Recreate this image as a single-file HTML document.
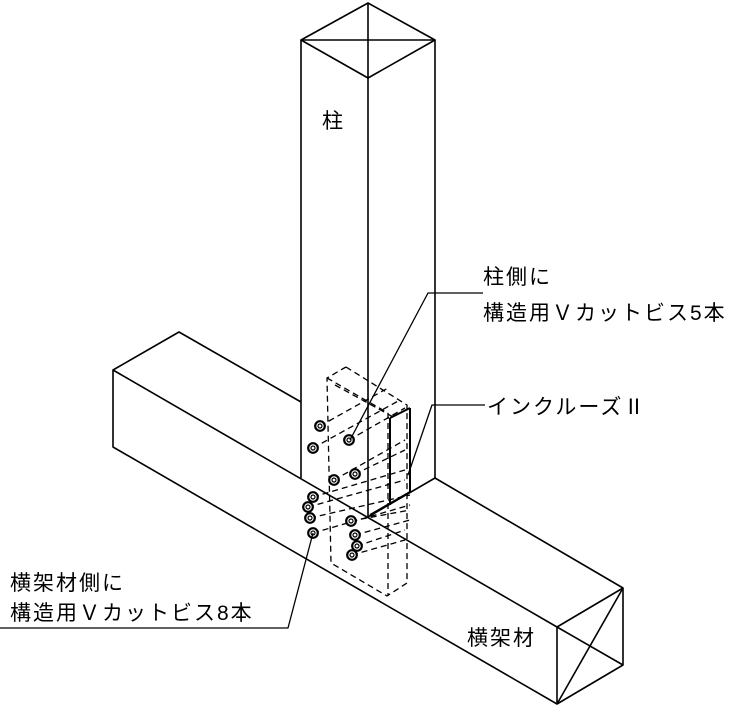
<!DOCTYPE html><html><head><meta charset="utf-8"><style>body{margin:0;background:#fff}svg{display:block}text{font-family:"Liberation Sans","Noto Sans CJK JP",sans-serif;font-size:21px;letter-spacing:2px;fill:#000}</style></head><body>
<svg width="748" height="706" viewBox="0 0 748 706" stroke="#000" fill="none" stroke-width="1.6" stroke-linejoin="round">
<defs><g id="s" fill="#fff" stroke-width="2.2"><circle r="4.8"/><circle r="2" stroke-width="1.2"/></g></defs>
<polygon points="301,40 368,3 435,40 368,78" />
<line x1="301" y1="40" x2="435" y2="40"/><line x1="368" y1="3" x2="368" y2="78"/>
<line x1="301" y1="40" x2="301" y2="478"/>
<line x1="368" y1="78" x2="368" y2="517"/>
<line x1="435" y1="40" x2="435" y2="478"/>
<line x1="368" y1="517" x2="435" y2="478"/>
<polyline points="301,402 179,332 113,370 113,447 557,704 623,665 623,588 435,478"/>
<line x1="113" y1="370" x2="557" y2="627"/>
<line x1="557" y1="627" x2="557" y2="704"/>
<line x1="557" y1="627" x2="623" y2="588"/>
<line x1="557" y1="627" x2="623" y2="665"/>
<line x1="557" y1="704" x2="623" y2="588"/>
<g stroke-dasharray="6,4" stroke-width="1.3">
<polyline points="346,367 407,405 407,583 387,596 331,563 327,378 346,367"/>
<line x1="327" y1="378" x2="388" y2="413"/>
<line x1="388" y1="413" x2="388" y2="596"/>
<line x1="335" y1="385" x2="395" y2="418"/>
<line x1="320" y1="426" x2="388" y2="388"/>
<line x1="313" y1="448" x2="400" y2="400"/>
<line x1="349" y1="440" x2="405" y2="408"/>
<line x1="334" y1="480" x2="405" y2="440"/>
<line x1="355" y1="474" x2="405" y2="450"/>
<line x1="313" y1="497" x2="405" y2="470"/>
<line x1="308" y1="507" x2="405" y2="480"/>
<line x1="310" y1="518" x2="410" y2="495"/>
<line x1="313" y1="533" x2="410" y2="505"/>
<line x1="351" y1="521" x2="410" y2="510"/>
<line x1="355" y1="535" x2="410" y2="520"/>
<line x1="357" y1="546" x2="405" y2="530"/>
<line x1="352" y1="555" x2="405" y2="540"/>
</g>
<g stroke-width="2">
<line x1="390" y1="418" x2="390" y2="505"/>
<line x1="410" y1="408" x2="410" y2="492"/>
<line x1="390" y1="418" x2="410" y2="408"/>
<line x1="370" y1="515" x2="410" y2="492"/>
</g>
<use href="#s" x="320" y="426"/><use href="#s" x="313" y="448"/><use href="#s" x="349" y="440"/>
<use href="#s" x="334" y="480"/><use href="#s" x="355" y="474"/>
<use href="#s" x="313" y="497"/><use href="#s" x="308" y="507"/><use href="#s" x="310" y="518"/><use href="#s" x="313" y="533"/>
<use href="#s" x="351" y="521"/><use href="#s" x="355" y="535"/><use href="#s" x="357" y="546"/><use href="#s" x="352" y="555"/>
<g stroke-width="1.3">
<polyline points="483,293 428,293 350,440"/>
<polyline points="485,405 432,405 408,475"/>
<polyline points="0,628 288,628 313,533"/>
</g>
<g stroke="none">
<text x="322" y="128">柱</text>
<text x="483" y="284">柱側に</text>
<text x="483" y="320">構造用Ｖカットビス5本</text>
<text x="487" y="414">インクルーズⅡ</text>
<text x="10" y="590">横架材側に</text>
<text x="10" y="620">構造用Ｖカットビス8本</text>
<text x="467" y="645">横架材</text>
</g>
</svg></body></html>
